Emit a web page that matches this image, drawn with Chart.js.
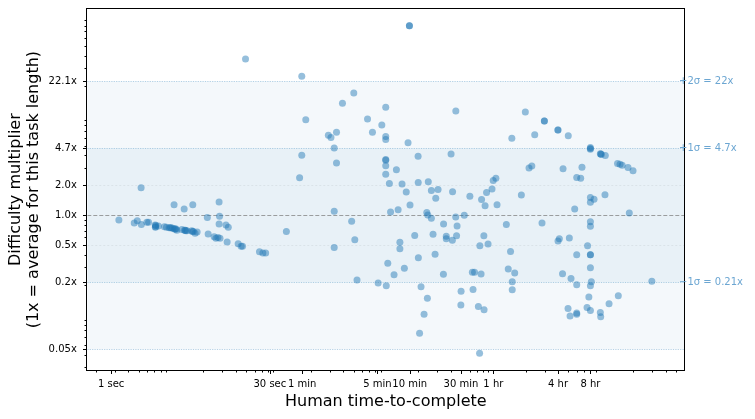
<!DOCTYPE html>
<html><head><meta charset="utf-8">
<script src="https://cdn.jsdelivr.net/npm/chart.js@4.4.0/dist/chart.umd.min.js"></script>
<style>html,body{margin:0;padding:0;background:#fff;}#wrap{width:755px;height:419px;}</style>
</head><body><div id="wrap"><canvas id="c" width="755" height="419"></canvas></div>
<script>
// Human time-to-complete, in seconds
const taskSeconds = [
  1.18, 1.64, 1.75, 1.91, 1.90, 2.15, 2.23, 2.57, 2.59, 2.58, 2.75, 3.13, 3.27, 3.46, 3.62, 3.75, 3.88, 4.02, 4.09, 4.55,
  4.81, 4.95, 5.09, 5.63, 5.83, 6.04, 6.31, 3.55, 3.95, 4.9, 5.7, 2.6,
  3.85, 4.78, 5.75, 10.1, 10.2, 7.85, 10.1, 11.7, 12.3, 7.99, 9.08, 9.44, 9.84, 10.3, 12.0, 15.2, 16.2, 16.7,
  24.0, 25.8, 27.4, 17.8, 42.7, 56.7, 59.4, 59.4, 64.7,
  105, 111, 119, 125, 125, 119, 119, 142, 181, 173, 185, 194, 243, 270, 305, 330,
  359, 359, 359, 359, 359, 359, 359, 388, 363, 375, 398, 429, 451, 468, 486, 486, 509, 535, 557, 579,
  596, 596, 604, 668, 718, 720, 722, 741, 765, 816, 865, 883, 876, 893, 954, 954, 989, 1033, 1048, 1101,
  1239, 1235, 1313, 1313, 1455, 1496, 1503, 1611, 1607, 1637, 1655, 1795, 1803, 1931, 2177, 2296, 2406, 2330, 2611, 2680,
  2697, 2767, 2797, 2938, 2951, 3015, 3113, 3214, 3499, 3590, 3800, 3897, 4755, 4955, 5202, 5350, 5395, 5395, 5690, 6561,
  7145, 7730, 8207, 8735, 10210, 10740, 10740, 14330, 14400, 14800, 14390, 15850, 16030, 17920, 17830, 18340, 18620, 19010, 20570,
  21480, 23390, 21480, 21480, 21480, 21480, 24050, 27100, 26800, 27860,
  28800, 28800, 28800, 28800, 31120, 28800, 28800, 28800, 28800, 28800, 28800, 29380, 28800, 28800,
  35620, 36390, 36000, 39630, 39360, 35620, 35900, 42950, 51500, 54320, 56890, 64420, 71780, 52360, 66250, 107400
];
// Difficulty multiplier (1x = average for this task length)
const difficultyMult = [
  0.90, 0.84, 0.88, 0.81, 1.89, 0.85, 0.85, 0.80, 0.77, 0.76, 0.78, 0.77, 0.76, 0.75, 0.75, 0.74, 0.73, 0.73, 0.71, 0.72,
  0.71, 0.70, 0.70, 0.70, 0.69, 0.66, 0.68, 0.75, 0.73, 0.71, 0.69, 0.79,
  1.28, 1.16, 1.28, 1.36, 0.98, 0.95, 0.82, 0.80, 0.76, 0.65, 0.61, 0.59, 0.60, 0.59, 0.54, 0.52, 0.49, 0.49,
  0.43, 0.42, 0.42, 37.0, 0.69, 2.38, 4.01, 24.8, 9.1,
  6.34, 6.03, 4.73, 6.82, 3.35, 1.10, 0.475, 13.3, 16.9, 0.87, 0.57, 0.224, 9.25, 6.8, 0.209, 8.05,
  12.1, 6.17, 5.75, 3.63, 3.56, 3.14, 2.58, 2.09, 0.197, 0.33, 1.08, 0.254, 2.86, 1.14, 0.537, 0.462, 2.06, 0.294, 1.71, 5.35,
  79.8, 79.8, 1.27, 0.627, 3.91, 2.14, 0.376, 0.0655, 0.192, 0.102, 1.07, 1.007, 0.147, 2.17, 1.77, 0.933, 0.645, 0.406, 1.48, 1.82,
  0.818, 0.256, 0.616, 0.582, 4.12, 0.563, 1.72, 11.1, 0.962, 0.624, 0.781, 0.126, 0.173, 1.0, 1.55, 0.269, 0.269, 0.18, 0.122, 0.0414,
  0.496, 0.258, 1.44, 0.623, 0.113, 1.248, 1.69, 0.515, 1.84, 2.23, 2.36, 1.274, 0.809, 0.29, 0.433, 5.92, 0.216, 0.179, 0.264, 1.6,
  10.9, 2.99, 3.12, 6.43, 0.837, 8.83, 8.83, 7.17, 7.17, 0.581, 0.552, 0.26, 2.93, 6.29, 0.116, 0.592, 0.0977, 0.233, 1.157,
  2.39, 2.35, 0.403, 0.201, 0.105, 0.102, 3.03, 0.496, 0.119, 0.152,
  4.79, 4.59, 4.68, 1.51, 1.45, 1.35, 0.863, 0.776, 0.403, 0.403, 0.298, 0.216, 0.197, 0.111,
  4.14, 4.07, 4.12, 3.98, 1.61, 0.106, 0.0961, 0.13, 3.31, 3.25, 3.17, 3.02, 2.80, 0.156, 1.054, 0.218
];
const xTickSeconds = [1, 30, 60, 300, 600, 1800, 3600, 14400, 28800];
const xTickLabels = ['1 sec', '30 sec', '1 min', '5 min', '10 min', '30 min', '1 hr', '4 hr', '8 hr'];
const yTickValues = [0.0453, 0.213, 0.5, 1.0, 2.0, 4.7, 22.1];
const yTickLabels = ['0.05x', '0.2x', '0.5x', '1.0x', '2.0x', '4.7x', '22.1x'];
const sigmaValues = [0.0453, 0.213, 4.7, 22.1];
const sigmaLabelValues = [0.213, 4.7, 22.1];
const sigmaLabels = ['\u22121\u03c3 = 0.21x', '+1\u03c3 = 4.7x', '+2\u03c3 = 22x'];
const bandOuter = [0.0453, 22.1];
const bandInner = [0.213, 4.7];
const refLines = [0.5, 2.0];
const meanLine = 1.0;
const xRange = [0.602, 215300];
const yRange = [0.0281, 116.5];

const FONT = 'DejaVu Sans';
const points = taskSeconds.map((s, i) => ({x: s, y: difficultyMult[i]}));

function hline(ctx, a, py) {
  ctx.beginPath(); ctx.moveTo(a.left, py); ctx.lineTo(a.right, py); ctx.stroke();
}

const decor = {
  id: 'decor',
  beforeDatasetsDraw(chart) {
    const {ctx, chartArea: a, scales: {y}} = chart;
    ctx.save();
    ctx.beginPath(); ctx.rect(a.left, a.top, a.right - a.left, a.bottom - a.top); ctx.clip();
    const o1 = y.getPixelForValue(bandOuter[1]), o0 = y.getPixelForValue(bandOuter[0]);
    ctx.fillStyle = 'rgba(31,119,180,0.05)';
    ctx.fillRect(a.left, o1, a.right - a.left, o0 - o1);
    const i1 = y.getPixelForValue(bandInner[1]), i0 = y.getPixelForValue(bandInner[0]);
    ctx.fillStyle = 'rgba(31,119,180,0.055)';
    ctx.fillRect(a.left, i1, a.right - a.left, i0 - i1);
    ctx.lineWidth = 0.8;
    ctx.setLineDash([1.2, 1.2]);
    ctx.strokeStyle = 'rgba(31,119,180,0.4)';
    sigmaValues.forEach(v => hline(ctx, a, Math.round(y.getPixelForValue(v)) + 0.5));
    ctx.strokeStyle = 'rgba(0,0,0,0.08)';
    ctx.setLineDash([2, 2]);
    refLines.forEach(v => hline(ctx, a, Math.round(y.getPixelForValue(v)) + 0.5));
    ctx.lineWidth = 1;
    ctx.setLineDash([4, 2]);
    ctx.strokeStyle = 'rgba(128,128,128,0.75)';
    hline(ctx, a, Math.round(y.getPixelForValue(meanLine)) + 0.5);
    ctx.restore();
  },
  afterDraw(chart) {
    const {ctx, chartArea: a, scales: {x, y}} = chart;
    ctx.save();
    ctx.strokeStyle = '#000';
    ctx.lineWidth = 1;
    const L = Math.round(a.left) - 0.5, R = Math.round(a.right) + 0.5;
    const T = Math.round(a.top) - 0.5, B = Math.round(a.bottom) + 0.5;
    ctx.strokeRect(L, T, R - L, B - T);
    ctx.beginPath();
    yTickValues.forEach(v => { const p = Math.round(y.getPixelForValue(v)) + 0.5; ctx.moveTo(L, p); ctx.lineTo(L - 3.5, p); });
    for (let k = -3; k <= 2; k++) for (let m = 2; m <= 9; m++) {
      const v = m * Math.pow(10, k);
      if (v < yRange[0] || v > yRange[1]) continue;
      const p = Math.round(y.getPixelForValue(v)) + 0.5; ctx.moveTo(L, p); ctx.lineTo(L - 2, p);
    }
    xTickSeconds.forEach(v => { const p = Math.round(x.getPixelForValue(v)) + 0.5; ctx.moveTo(p, B); ctx.lineTo(p, B + 3.5); });
    for (let k = -5; k <= 2; k++) for (let m = 2; m <= 9; m++) {
      const v = m * Math.pow(10, k) * 3600;
      if (v < xRange[0] || v > xRange[1]) continue;
      const p = Math.round(x.getPixelForValue(v)) + 0.5; ctx.moveTo(p, B); ctx.lineTo(p, B + 2);
    }
    ctx.stroke();
    // sigma labels on the right edge
    ctx.font = '10px "' + FONT + '"';
    ctx.fillStyle = '#6ca6d2';
    ctx.textAlign = 'left';
    ctx.textBaseline = 'middle';
    sigmaLabelValues.forEach((v, i) => ctx.fillText(sigmaLabels[i], a.right - 5.3, y.getPixelForValue(v)));
    ctx.restore();
  }
};

new Chart(document.getElementById('c'), {
  type: 'scatter',
  data: {datasets: [{
    data: points,
    pointRadius: 3.5, pointHoverRadius: 3.5,
    backgroundColor: 'rgba(31,119,180,0.47)',
    borderWidth: 0
  }]},
  options: {
    responsive: false, animation: false, devicePixelRatio: 1,
    layout: {padding: {left: 0, right: 70.7, top: 9.3, bottom: 0}},
    plugins: {legend: {display: false}, tooltip: {enabled: false}},
    events: [],
    scales: {
      x: {
        type: 'logarithmic', position: 'bottom', min: xRange[0], max: xRange[1],
        afterBuildTicks: s => { s.ticks = xTickSeconds.map(v => ({value: v})); },
        afterFit: s => { s.height = 49; s.paddingLeft = 0; s.paddingRight = 0; },
        grid: {display: false, drawTicks: false, tickLength: 0},
        border: {display: false},
        ticks: {autoSkip: false, maxRotation: 0, minRotation: 0, padding: 8.5,
          font: {family: FONT, size: 10}, color: '#000',
          callback: (v, i) => xTickLabels[i]},
        title: {display: true, text: 'Human time-to-complete', color: '#000',
          font: {family: FONT, size: 16}, padding: {top: 0, bottom: 7.8}}
      },
      y: {
        type: 'logarithmic', position: 'left', min: yRange[0], max: yRange[1],
        afterBuildTicks: s => { s.ticks = yTickValues.map(v => ({value: v})); },
        afterFit: s => { s.width = 87.3; s.paddingTop = 0; s.paddingBottom = 0; },
        grid: {display: false, drawTicks: false, tickLength: 0},
        border: {display: false},
        ticks: {autoSkip: false, padding: 10.5, font: {family: FONT, size: 10}, color: '#000',
          callback: (v, i) => yTickLabels[i]},
        title: {display: true, text: ['Difficulty multiplier', '(1x = average for this task length)'],
          color: '#000', font: {family: FONT, size: 16, lineHeight: 1.1}, padding: {top: 7.3, bottom: 0}}
      }
    }
  },
  plugins: [decor]
});
</script>
</body></html>
